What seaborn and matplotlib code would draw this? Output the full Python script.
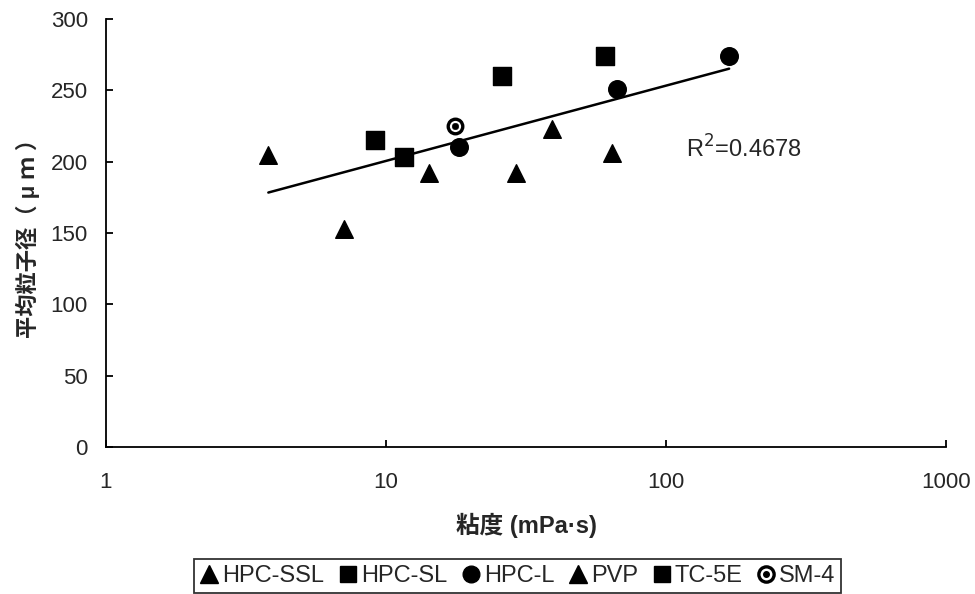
import numpy as np
import pandas as pd
import matplotlib
matplotlib.use("Agg")
import matplotlib.pyplot as plt
import seaborn as sns
from matplotlib.lines import Line2D
from matplotlib.legend_handler import HandlerTuple

# ---- data ----
ssl_x = [3.8, 7.1]
ssl_y = [205, 153]
sl_x = [9.1, 11.6]
sl_y = [215, 203]
l_x = [18.2, 66.8, 168]
l_y = [210, 251, 274]
pvp_x = [14.2, 29.1, 39.2, 64.1]
pvp_y = [192, 192, 223, 206]
tc_x = [26.0, 60.5]
tc_y = [260, 274]
sm_x = [17.6]
sm_y = [225]
series_names = ["HPC-SSL", "HPC-SL", "HPC-L", "PVP", "TC-5E", "SM-4"]
r2_text = "R$^2$=0.4678"

sns.set_theme(style="white")
plt.rcParams['font.family'] = ['Liberation Sans', 'Noto Sans CJK JP', 'DejaVu Sans']

fig = plt.figure(figsize=(9.75, 5.94), dpi=100)
ax = fig.add_axes([0.1087, 0.2475, 0.8616, 0.7205])

ms = 160
sns.scatterplot(x=ssl_x, y=ssl_y, marker="^", s=ms, color="black", edgecolor="black", ax=ax)
sns.scatterplot(x=sl_x, y=sl_y, marker="s", s=ms, color="black", edgecolor="black", ax=ax)
sns.scatterplot(x=l_x, y=l_y, marker="o", s=ms, color="black", edgecolor="black", ax=ax)
sns.scatterplot(x=pvp_x, y=pvp_y, marker="^", s=ms, color="black", edgecolor="black", ax=ax)
sns.scatterplot(x=tc_x, y=tc_y, marker="s", s=ms, color="black", edgecolor="black", ax=ax)
sns.scatterplot(x=sm_x, y=sm_y, marker="o", s=110, color="white", edgecolor="black", linewidth=2.4, ax=ax)
sns.scatterplot(x=sm_x, y=sm_y, marker="o", s=22, color="black", edgecolor="black", ax=ax)

all_x = ssl_x + sl_x + l_x + pvp_x + tc_x + sm_x
all_y = ssl_y + sl_y + l_y + pvp_y + tc_y + sm_y
sns.regplot(x=np.array(all_x), y=np.array(all_y), logx=True, ci=None, scatter=False,
            color="black", line_kws=dict(lw=1.8), ax=ax)

ax.set_xscale("log")
ax.set_xlim(1, 1000)
ax.set_ylim(0, 300)
ax.set_xticks([1, 10, 100, 1000])
ax.set_xticklabels(["1", "10", "100", "1000"])
ax.set_yticks([0, 50, 100, 150, 200, 250, 300])
ax.xaxis.set_minor_locator(matplotlib.ticker.NullLocator())
for s in ["top", "right"]:
    ax.spines[s].set_visible(False)
for s in ["left", "bottom"]:
    ax.spines[s].set_color("black")
    ax.spines[s].set_linewidth(1.3)
ax.tick_params(axis="both", direction="in", length=5, width=1.3, color="black",
               labelsize=16, left=True, bottom=True)
ax.tick_params(axis="y", pad=13)
ax.tick_params(axis="x", pad=18)
ax.set_xlabel("粘度 (mPa·s)", fontsize=17, fontweight="bold", labelpad=14)
ax.set_ylabel("平均粒子径（ μ ｍ ）", fontsize=16, fontweight="bold", labelpad=8)
ax.text(118, 209, r2_text, fontsize=17, ha="left", va="center")

h_ssl = Line2D([], [], ls="", marker="^", ms=13, color="black")
h_sl = Line2D([], [], ls="", marker="s", ms=12, color="black")
h_l = Line2D([], [], ls="", marker="o", ms=12, color="black")
h_pvp = Line2D([], [], ls="", marker="^", ms=13, color="black")
h_tc = Line2D([], [], ls="", marker="s", ms=12, color="black")
h_sm1 = Line2D([], [], ls="", marker="o", ms=11, mfc="white", mec="black", mew=2.4)
h_sm2 = Line2D([], [], ls="", marker="o", ms=4, color="black")
leg = fig.legend([h_ssl, h_sl, h_l, h_pvp, h_tc, (h_sm1, h_sm2)], series_names,
                 handler_map={tuple: HandlerTuple(ndivide=1, pad=0)},
                 loc="center", bbox_to_anchor=(0.531, 0.030), ncol=6, fontsize=17,
                 frameon=True, fancybox=False, edgecolor="black", handlelength=0.8,
                 handletextpad=0.15, columnspacing=0.6, borderpad=0.25)
leg.get_frame().set_linewidth(1.3)

fig.savefig("out.png", dpi=100, facecolor="white")
